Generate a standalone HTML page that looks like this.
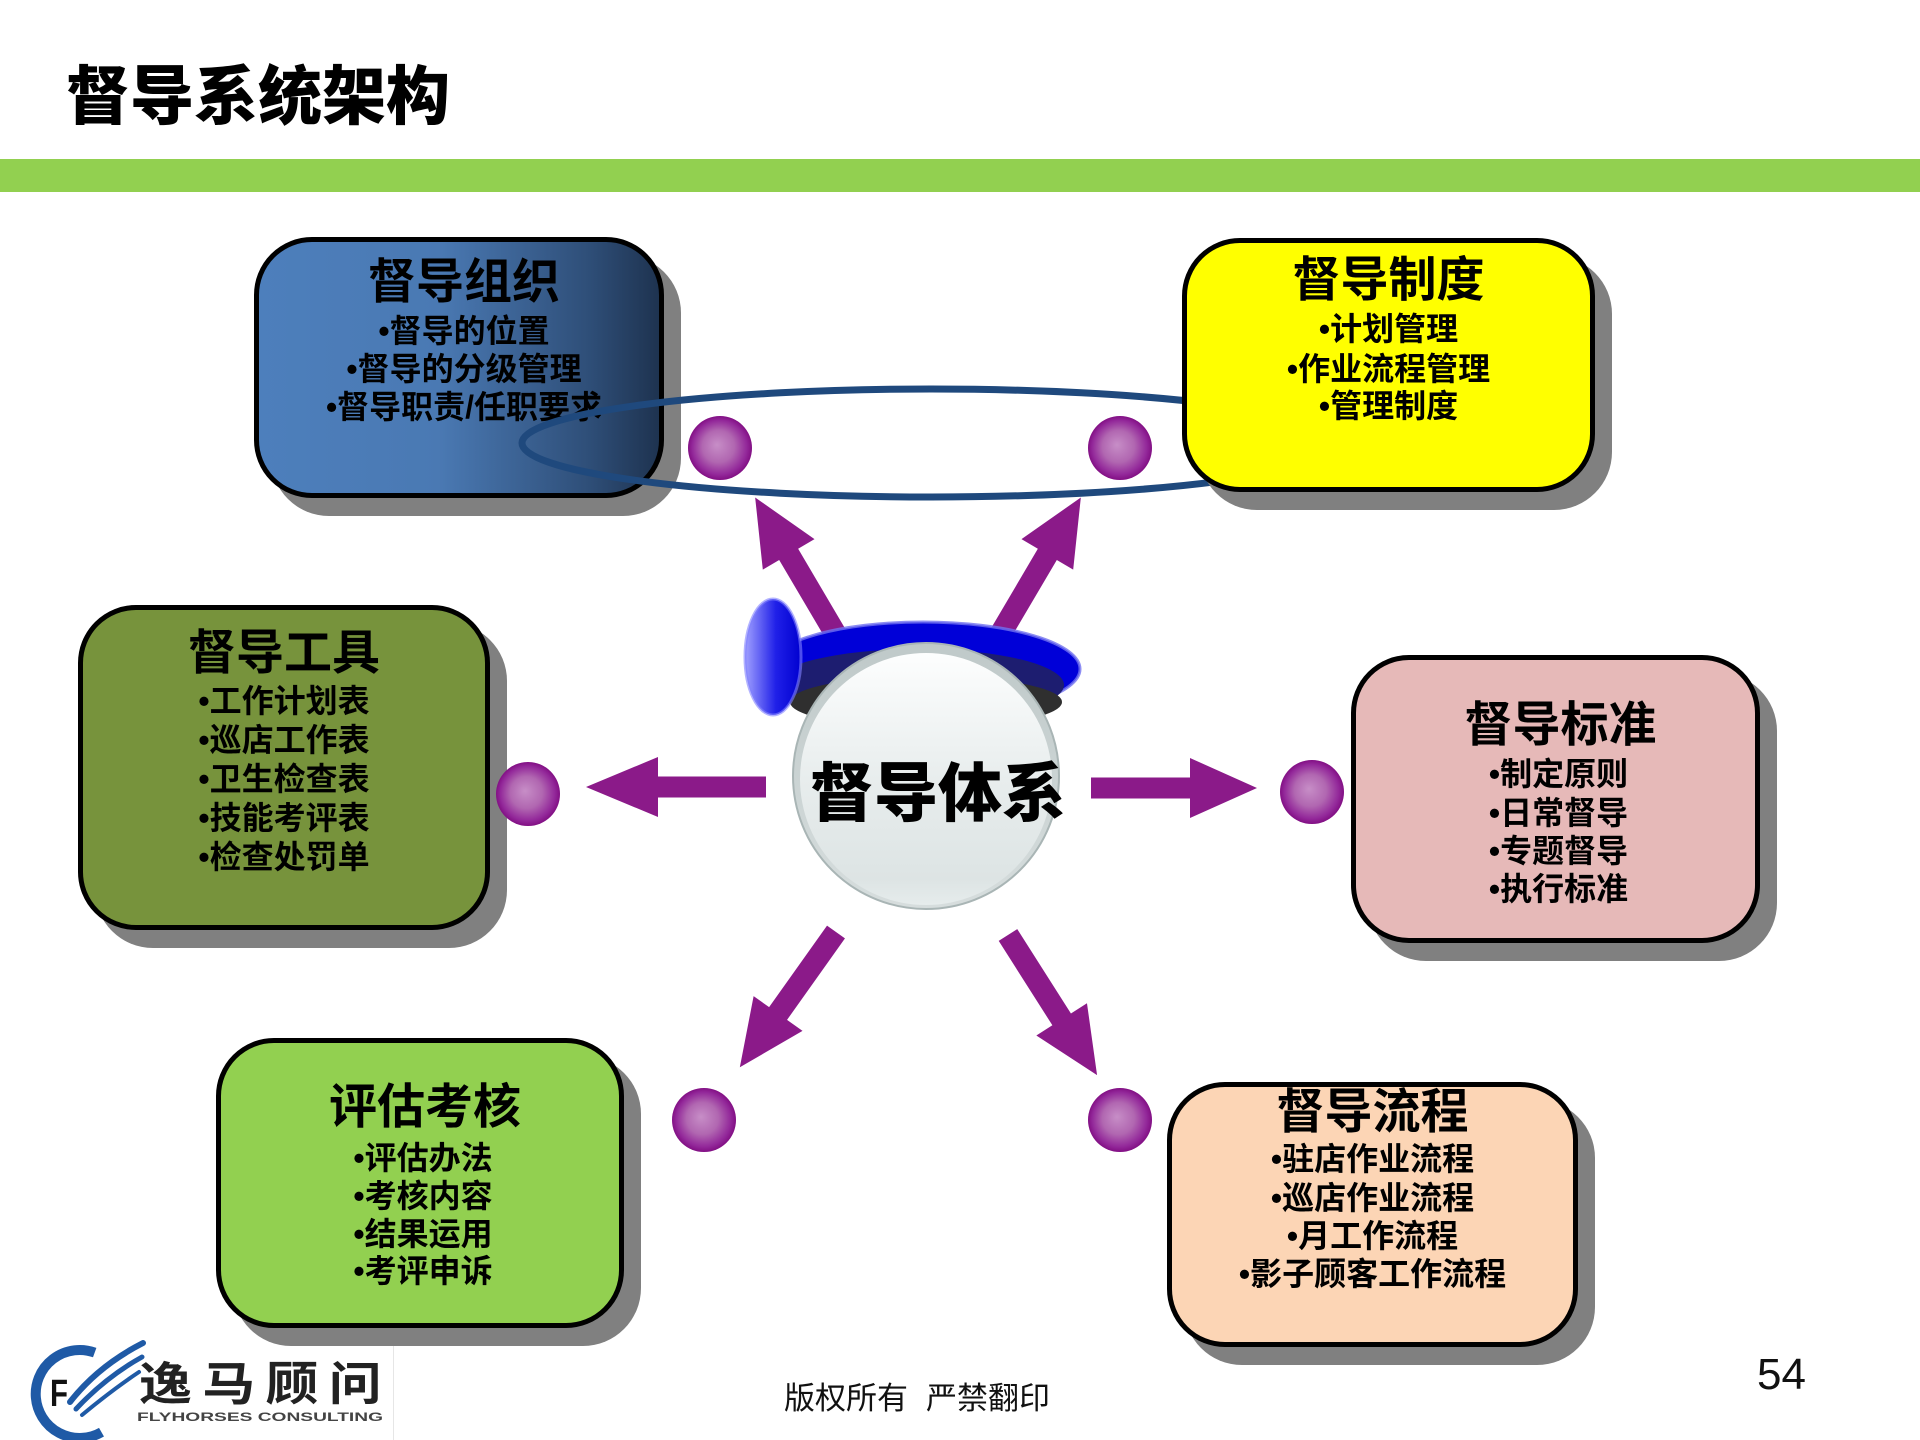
<!DOCTYPE html>
<html><head><meta charset="utf-8">
<style>
html,body{margin:0;padding:0;}
body{width:1920px;height:1440px;overflow:hidden;background:#fff;position:relative;}
.sh{position:absolute;background:#808080;border-radius:58px;z-index:1;}
.bx{position:absolute;box-sizing:border-box;border:5px solid #000;border-radius:58px;z-index:1;}
.t{position:absolute;text-align:center;font-family:"Liberation Sans","Noto Sans CJK SC",sans-serif;font-weight:700;color:#000;white-space:nowrap;z-index:1;}
.h{font-size:48px;line-height:48px;}
.b{font-size:32px;line-height:32px;}
.z3{z-index:3;}
svg.ov{position:absolute;left:0;top:0;}
</style></head><body>

<div style="position:absolute;left:66px;top:65px;font-family:'Liberation Sans','Noto Sans CJK SC',sans-serif;font-weight:900;font-size:64px;line-height:64px;color:#000;white-space:nowrap;">督导系统架构</div>
<div style="position:absolute;left:0;top:159px;width:1920px;height:33px;background:#92D050;"></div>

<!-- Blue box -->
<div class="sh" style="left:271px;top:255px;width:410px;height:261px;"></div>
<div class="bx" style="left:254px;top:237px;width:410px;height:261px;background:linear-gradient(90deg,#4d7fbc 0%,#4a79b3 45%,#2f4f79 82%,#1e3350 100%);"></div>
<div class="t h" style="left:259px;width:410px;top:259px;">督导组织</div>
<div class="t b" style="left:259px;width:410px;top:315px;">•督导的位置</div>
<div class="t b" style="left:259px;width:410px;top:353px;">•督导的分级管理</div>
<div class="t b" style="left:259px;width:410px;top:391px;">•督导职责/任职要求</div>

<!-- Ellipse ring -->
<svg class="ov" width="1920" height="1440" style="z-index:2;">
<ellipse cx="931" cy="443" rx="409" ry="54" fill="none" stroke="#1F497D" stroke-width="7"/>
</svg>

<!-- Yellow box -->
<div class="sh z3" style="left:1199px;top:256px;width:413px;height:254px;"></div>
<div class="bx z3" style="left:1182px;top:238px;width:413px;height:254px;background:#FFFF00;"></div>
<div class="t h z3" style="left:1182px;width:413px;top:257px;">督导制度</div>
<div class="t b z3" style="left:1182px;width:413px;top:313px;">•计划管理</div>
<div class="t b z3" style="left:1182px;width:413px;top:353px;">•作业流程管理</div>
<div class="t b z3" style="left:1182px;width:413px;top:390px;">•管理制度</div>

<!-- Olive box -->
<div class="sh" style="left:95px;top:623px;width:412px;height:325px;"></div>
<div class="bx" style="left:78px;top:605px;width:412px;height:325px;background:#77933C;"></div>
<div class="t h" style="left:78px;width:412px;top:630px;">督导工具</div>
<div class="t b" style="left:78px;width:412px;top:685px;">•工作计划表</div>
<div class="t b" style="left:78px;width:412px;top:724px;">•巡店工作表</div>
<div class="t b" style="left:78px;width:412px;top:763px;">•卫生检查表</div>
<div class="t b" style="left:78px;width:412px;top:802px;">•技能考评表</div>
<div class="t b" style="left:78px;width:412px;top:841px;">•检查处罚单</div>

<!-- Pink box -->
<div class="sh" style="left:1368px;top:673px;width:409px;height:288px;"></div>
<div class="bx" style="left:1351px;top:655px;width:409px;height:288px;background:#E6B9B8;"></div>
<div class="t h" style="left:1356px;width:409px;top:702px;">督导标准</div>
<div class="t b" style="left:1354px;width:409px;top:758px;">•制定原则</div>
<div class="t b" style="left:1354px;width:409px;top:797px;">•日常督导</div>
<div class="t b" style="left:1354px;width:409px;top:835px;">•专题督导</div>
<div class="t b" style="left:1354px;width:409px;top:873px;">•执行标准</div>

<!-- Green box -->
<div class="sh" style="left:233px;top:1056px;width:408px;height:290px;"></div>
<div class="bx" style="left:216px;top:1038px;width:408px;height:290px;background:#92D050;"></div>
<div class="t h" style="left:221px;width:408px;top:1084px;">评估考核</div>
<div class="t b" style="left:219px;width:408px;top:1142px;">•评估办法</div>
<div class="t b" style="left:219px;width:408px;top:1180px;">•考核内容</div>
<div class="t b" style="left:219px;width:408px;top:1218px;">•结果运用</div>
<div class="t b" style="left:219px;width:408px;top:1255px;">•考评申诉</div>

<!-- Peach box -->
<div class="sh" style="left:1184px;top:1100px;width:411px;height:265px;"></div>
<div class="bx" style="left:1167px;top:1082px;width:411px;height:265px;background:#FCD5B5;"></div>
<div class="t h" style="left:1167px;width:411px;top:1089px;">督导流程</div>
<div class="t b" style="left:1167px;width:411px;top:1143px;">•驻店作业流程</div>
<div class="t b" style="left:1167px;width:411px;top:1182px;">•巡店作业流程</div>
<div class="t b" style="left:1167px;width:411px;top:1220px;">•月工作流程</div>
<div class="t b" style="left:1167px;width:411px;top:1258px;">•影子顾客工作流程</div>

<!-- Balls, arrows, sphere -->
<svg class="ov" width="1920" height="1440" style="z-index:4;">
<defs>
<radialGradient id="ball" cx="50%" cy="50%" r="50%" fx="45%" fy="45%">
<stop offset="0" stop-color="#c78ec7"/>
<stop offset="0.5" stop-color="#b167b1"/>
<stop offset="0.85" stop-color="#93289a"/>
<stop offset="1" stop-color="#820f84"/>
</radialGradient>
<linearGradient id="sph1" x1="0" y1="0" x2="0" y2="1">
<stop offset="0" stop-color="#bfc9c9"/>
<stop offset="1" stop-color="#d6dddd"/>
</linearGradient>
<linearGradient id="sph2" x1="0" y1="0" x2="0" y2="1">
<stop offset="0" stop-color="#fdfefe"/>
<stop offset="0.5" stop-color="#e8eded"/>
<stop offset="0.9" stop-color="#dde4e4"/>
<stop offset="1" stop-color="#e6ecec"/>
</linearGradient>
<linearGradient id="lblue" x1="0" y1="0" x2="1" y2="0">
<stop offset="0" stop-color="#a0a0ff"/>
<stop offset="0.55" stop-color="#2020e8"/>
<stop offset="1" stop-color="#0000d0"/>
</linearGradient>
</defs>

<circle cx="720" cy="448" r="32" fill="url(#ball)"/>
<circle cx="1120" cy="448" r="32" fill="url(#ball)"/>
<circle cx="528" cy="794" r="32" fill="url(#ball)"/>
<circle cx="1312" cy="792" r="32" fill="url(#ball)"/>
<circle cx="704" cy="1120" r="32" fill="url(#ball)"/>
<circle cx="1120" cy="1120" r="32" fill="url(#ball)"/>

<g fill="#8B1A89">
<polygon transform="translate(766,787) rotate(180)" points="0,-10.5 108,-10.5 108,-30 180,0 108,30 108,10.5 0,10.5"/>
<polygon transform="translate(1091,788)" points="0,-10.5 99,-10.5 99,-30 166,0 99,30 99,10.5 0,10.5"/>
<polygon transform="translate(845,650) rotate(-120.5)" points="0,-11 111,-11 111,-30 177,0 111,30 111,11 0,11"/>
<polygon transform="translate(991,650) rotate(-59.5)" points="0,-11 111,-11 111,-30 177,0 111,30 111,11 0,11"/>
<polygon transform="translate(836,932) rotate(125.4)" points="0,-11 100,-11 100,-30 166,0 100,30 100,11 0,11"/>
<polygon transform="translate(1008,935) rotate(57.55)" points="0,-11 100,-11 100,-30 166,0 100,30 100,11 0,11"/>
</g>

<!-- hat -->
<ellipse cx="923" cy="669" rx="157" ry="47" fill="#0000d8" stroke="#7070f0" stroke-width="3" stroke-opacity="0.8"/>
<ellipse cx="918" cy="685" rx="146" ry="36" fill="#1d1d70"/>
<ellipse cx="926" cy="702" rx="136" ry="26" fill="#2f2f2f"/>
<!-- sphere -->
<circle cx="926" cy="776" r="133" fill="url(#sph1)" stroke="#a9b5b5" stroke-width="2"/>
<circle cx="926" cy="779" r="126" fill="url(#sph2)"/>
<ellipse cx="773" cy="657" rx="28" ry="58" fill="url(#lblue)" stroke="#8080ff" stroke-width="3" stroke-opacity="0.6"/>
</svg>

<div style="position:absolute;left:810px;top:762px;z-index:5;font-family:'Liberation Sans','Noto Sans CJK SC',sans-serif;font-weight:900;font-size:64px;line-height:64px;color:#000;white-space:nowrap;">督导体系</div>

<!-- Footer -->
<div style="position:absolute;left:784px;top:1383px;font-family:'Liberation Sans','Noto Sans CJK SC',sans-serif;font-size:31px;line-height:31px;color:#111;white-space:nowrap;">版权所有<span style="display:inline-block;width:18px;"></span>严禁翻印</div>
<div style="position:absolute;left:1757px;top:1353px;font-family:'Liberation Sans',sans-serif;font-size:44px;line-height:44px;color:#111;">54</div>

<!-- Logo -->
<svg class="ov" width="1920" height="1440" style="z-index:6;">
<rect x="0" y="1346" width="393" height="94" fill="#fff"/>
<line x1="393.5" y1="1346" x2="393.5" y2="1440" stroke="#e6e6e6" stroke-width="1"/>
<path d="M 94.7 1352.6 A 44 44 0 1 0 101.5 1432.2" fill="none" stroke="#1f5aa6" stroke-width="10"/>
<g fill="none" stroke="#1f5aa6" stroke-linecap="round">
<path d="M 70 1402 Q 98 1366 143 1343" stroke-width="6"/>
<path d="M 76 1409 Q 106 1377 142 1357" stroke-width="5"/>
<path d="M 82 1415 Q 112 1390 139 1372" stroke-width="4"/>
</g>
<text x="50" y="1406" font-family="Liberation Sans, sans-serif" font-weight="700" font-size="38" fill="#111" textLength="18" lengthAdjust="spacingAndGlyphs">F</text>
<text transform="translate(139,1400) scale(1.15,1)" x="0" y="0" font-family="Liberation Sans, Noto Sans CJK SC, sans-serif" font-weight="700" font-size="46" fill="#222" textLength="211" lengthAdjust="spacing">逸马顾问</text>
<text x="137" y="1421" font-family="Liberation Sans, sans-serif" font-weight="700" font-size="12" fill="#444" textLength="246" lengthAdjust="spacingAndGlyphs">FLYHORSES CONSULTING</text>
</svg>

</body></html>
